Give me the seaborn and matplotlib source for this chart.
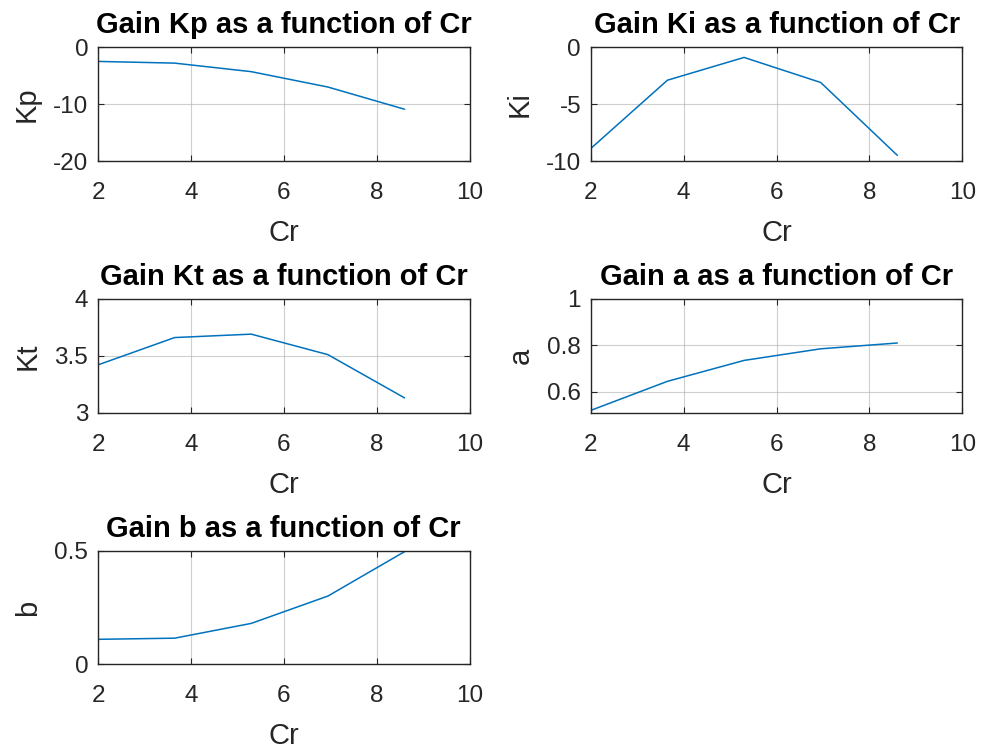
import matplotlib
matplotlib.use("Agg")
import matplotlib.pyplot as plt
import seaborn as sns
import pandas as pd

# --- DATA ---
cr = [2.0, 3.65, 5.3, 6.95, 8.6]
kp = [-2.5, -2.8, -4.3, -7.0, -10.9]
ki = [-8.9, -2.9, -0.9, -3.1, -9.5]
kt = [3.42, 3.66, 3.69, 3.51, 3.13]
a_gain = [0.52, 0.645, 0.735, 0.785, 0.81]
b_gain = [0.11, 0.115, 0.18, 0.30, 0.495]

panels = [
    ("Kp", kp, (-20, 0), [-20, -10, 0], ["-20", "-10", "0"]),
    ("Ki", ki, (-10, 0), [-10, -5, 0], ["-10", "-5", "0"]),
    ("Kt", kt, (3, 4), [3, 3.5, 4], ["3", "3.5", "4"]),
    ("a", a_gain, (0.51, 1), [0.6, 0.8, 1], ["0.6", "0.8", "1"]),
    ("b", b_gain, (0, 0.5), [0, 0.5], ["0", "0.5"]),
]
x_ticks = [2, 4, 6, 8, 10]

# --- STYLE ---
sns.set_style("white")
plt.rcParams['font.family'] = ['Liberation Sans', 'DejaVu Sans']

fig = plt.figure(figsize=(9.83, 7.49), dpi=100)

# axes positions [left, bottom, width, height] in figure fractions
cols = [0.0997, 0.601]
rows = [0.785, 0.449, 0.113]
w, h = 0.378, 0.152

dark = "#262626"
for i, (name, vals, ylim, yt, ytl) in enumerate(panels):
    r, c = divmod(i, 2)
    ax = fig.add_axes([cols[c], rows[r], w, h])
    df = pd.DataFrame({"Cr": cr, name: vals})
    sns.lineplot(data=df, x="Cr", y=name, ax=ax, color="#0072BD", linewidth=1.1)
    ax.set_xlim(2, 10)
    ax.set_ylim(*ylim)
    ax.set_xticks(x_ticks)
    ax.set_xticklabels([str(t) for t in x_ticks])
    ax.set_yticks(yt)
    ax.set_yticklabels(ytl)
    ax.grid(True, color="#b0b0b0", linewidth=0.8, alpha=0.6)
    ax.set_axisbelow(True)
    for s in ax.spines.values():
        s.set_color(dark)
        s.set_linewidth(1.0)
    ax.tick_params(direction="in", length=4, width=0.8, colors=dark,
                   labelsize=17.5, labelcolor=dark,
                   top=True, right=True, bottom=True, left=True)
    ax.tick_params(axis="x", pad=15)
    ax.tick_params(axis="y", pad=7)
    ax.set_xlabel("Cr", fontsize=21, color=dark, labelpad=11)
    ax.set_ylabel(name, fontsize=21, color=dark, labelpad=9)
    ax.set_title(f"Gain {name} as a function of Cr", fontsize=21,
                 fontweight="bold", color="black", pad=10)

plt.savefig("out.png", dpi=100)
